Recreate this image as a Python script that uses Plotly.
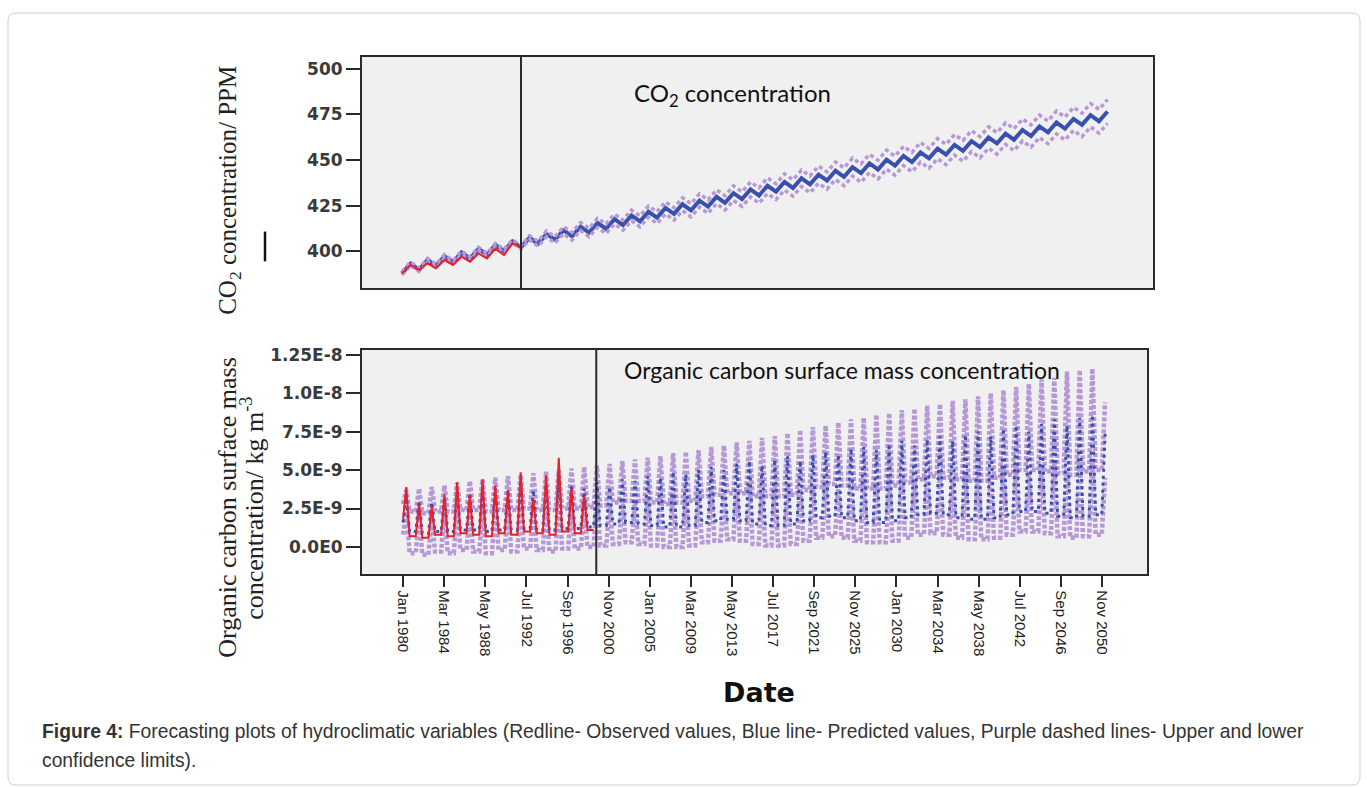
import plotly.graph_objects as go

# ---------------- CO2 panel (ppm), half-year steps: seasonal trough / peak alternate ----------------
co2_t0 = 2009.1
co2_step = 0.5
co2_forecast_start = 2016.1

co2_observed = [388.0, 392.6, 389.9, 393.5, 390.8, 395.3, 392.6, 397.1, 394.4, 398.9,
                396.2, 401.5, 398.0, 404.5, 402.3]

co2_predicted = [388.0, 393.3, 390.0, 395.3, 392.1, 397.4, 394.1, 399.4, 396.1, 401.4,
                 398.2, 403.5, 400.2, 405.5, 402.2, 407.5, 404.2, 409.6, 406.3, 411.6,
                 408.3, 413.6, 410.3, 415.6, 412.4, 417.7, 414.4, 419.7, 416.4, 421.7,
                 418.5, 423.8, 420.5, 425.8, 422.5, 427.8, 424.5, 429.9, 426.6, 431.9,
                 428.6, 433.9, 430.6, 435.9, 432.7, 438.0, 434.7, 440.0, 436.7, 442.0,
                 438.8, 444.1, 440.8, 446.1, 442.8, 448.1, 444.8, 450.2, 446.9, 452.2,
                 448.9, 454.2, 450.9, 456.2, 453.0, 458.3, 455.0, 460.3, 457.0, 462.3,
                 459.1, 464.4, 461.1, 466.4, 463.1, 468.4, 465.1, 470.5, 467.2, 472.5,
                 469.2, 474.5, 471.2, 476.5]

co2_upper = [388.9, 394.2, 390.9, 396.2, 393.0, 398.3, 395.0, 400.3, 397.0, 402.3,
             399.1, 404.4, 401.1, 406.4, 403.1, 408.6, 405.6, 411.2, 408.0, 413.5,
             410.4, 415.8, 412.6, 418.1, 415.0, 420.4, 417.2, 422.6, 419.4, 424.8,
             421.7, 427.1, 423.9, 429.3, 426.1, 431.5, 428.2, 433.7, 430.5, 435.9,
             432.6, 438.0, 434.8, 440.2, 437.0, 442.4, 439.2, 444.5, 441.3, 446.7,
             443.5, 448.9, 445.7, 451.0, 447.8, 453.1, 449.9, 455.4, 452.1, 457.5,
             454.2, 459.6, 456.3, 461.7, 458.6, 463.9, 460.7, 466.0, 462.8, 468.1,
             465.0, 470.3, 467.1, 472.4, 469.2, 474.5, 471.3, 476.7, 473.5, 478.8,
             475.6, 480.9, 477.7, 483.0]

co2_lower = [387.1, 392.4, 389.1, 394.4, 391.2, 396.5, 393.2, 398.5, 395.2, 400.5,
             397.3, 402.6, 399.3, 404.6, 401.3, 406.4, 402.9, 408.0, 404.6, 409.7,
             406.2, 411.4, 408.0, 413.1, 409.8, 415.0, 411.6, 416.8, 413.4, 418.6,
             415.3, 420.5, 417.1, 422.3, 418.9, 424.2, 420.8, 426.1, 422.7, 427.9,
             424.6, 429.8, 426.4, 431.6, 428.4, 433.6, 430.2, 435.5, 432.1, 437.3,
             434.1, 439.3, 435.9, 441.2, 437.8, 443.1, 439.7, 445.0, 441.7, 446.9,
             443.6, 448.8, 445.5, 450.7, 447.5, 452.7, 449.3, 454.6, 451.2, 456.5,
             453.2, 458.5, 455.1, 460.4, 457.0, 462.3, 458.9, 464.3, 460.9, 466.2,
             462.8, 468.1, 464.7, 470.0]

co2_ticks = [400, 425, 450, 475, 500]

# ---------------- Organic carbon panel (values in 1e-9 kg m-3) ----------------
# x = months since Jan 1980; one seasonal spike per cycle
oc_cycle_start = 4.0
oc_cycle_len = 15.45
oc_forecast_start = 235

oc_obs_peaks = [3.9, 2.8, 2.6, 3.4, 4.2, 3.4, 4.4, 4.0, 3.7, 4.85, 3.1, 4.65, 5.8, 3.8, 3.4]
oc_obs_troughs = [1.8, 0.7, 0.6, 0.8, 0.7, 0.9, 0.8, 0.7, 0.9, 0.8, 1.0, 0.9, 0.8, 1.0, 0.9, 1.1]

oc_pred_peaks = [3.2, 3.0, 2.9, 3.2, 3.6, 3.5, 3.8, 3.8, 3.7, 4.1, 3.7, 4.1, 4.6, 4.0, 3.8,
                 4.2, 3.9, 4.4, 4.3, 4.6, 4.5, 4.9, 4.7, 5.0, 5.2, 5.0, 5.4, 5.6, 5.3, 5.7,
                 5.9, 5.6, 6.0, 6.2, 6.0, 6.4, 6.5, 6.3, 6.7, 6.9, 6.6, 7.0, 7.2, 6.9, 7.3,
                 7.5, 7.2, 7.7, 7.9, 7.5, 8.0, 8.3, 7.9, 8.4, 8.6, 7.4]
oc_pred_troughs = [1.6, 1.0, 0.9, 1.0, 1.0, 1.1, 1.1, 1.0, 1.1, 1.1, 1.2, 1.1, 1.1, 1.2, 1.2, 1.3,
                   1.4, 1.5, 1.6, 1.5, 1.4, 1.3, 1.3, 1.4, 1.6, 1.7, 1.8, 1.7, 1.5, 1.4,
                   1.4, 1.5, 1.7, 1.9, 2.0, 1.9, 1.7, 1.6, 1.6, 1.7, 1.9, 2.1, 2.2, 2.1,
                   1.9, 1.8, 1.8, 1.9, 2.1, 2.3, 2.3, 2.2, 2.0, 1.9, 2.0, 2.1]

oc_upper_peaks = [3.7, 3.8, 3.9, 4.0, 4.2, 4.3, 4.4, 4.5, 4.6, 4.7, 4.8, 4.9, 5.0, 5.1, 5.2,
                  5.3, 5.4, 5.6, 5.7, 5.8, 5.9, 6.1, 6.2, 6.3, 6.5, 6.6, 6.8, 6.9, 7.1, 7.2,
                  7.4, 7.6, 7.8, 7.9, 8.1, 8.3, 8.4, 8.6, 8.7, 8.9, 9.0, 9.2, 9.3, 9.5, 9.6,
                  9.8, 10.0, 10.2, 10.4, 10.6, 10.9, 11.0, 11.4, 11.5, 11.6, 9.4]
oc_upper_troughs = [2.8, 2.3, 2.2, 2.3, 2.3, 2.4, 2.4, 2.3, 2.4, 2.4, 2.5, 2.4, 2.4, 2.5, 2.5, 2.6,
                    2.7, 2.9, 3.0, 3.0, 2.9, 2.8, 2.9, 3.0, 3.3, 3.4, 3.5, 3.5, 3.3, 3.3,
                    3.3, 3.4, 3.7, 3.9, 4.1, 4.0, 3.8, 3.8, 3.8, 4.0, 4.2, 4.4, 4.6, 4.5,
                    4.4, 4.3, 4.3, 4.5, 4.7, 5.0, 5.0, 4.9, 4.8, 4.7, 4.9, 5.0]

oc_lower_peaks = [2.3, 2.1, 2.0, 2.3, 2.6, 2.5, 2.8, 2.7, 2.6, 3.0, 2.6, 3.0, 3.4, 2.9, 2.7,
                  3.1, 2.8, 3.2, 3.1, 3.3, 3.2, 3.5, 3.3, 3.5, 3.7, 3.5, 3.8, 4.0, 3.6, 4.0,
                  4.1, 3.8, 4.1, 4.3, 4.0, 4.4, 4.5, 4.2, 4.6, 4.7, 4.4, 4.7, 4.9, 4.5, 4.9,
                  5.1, 4.7, 5.2, 5.3, 4.9, 5.3, 5.6, 5.1, 5.6, 5.7, 4.5]
oc_lower_troughs = [0.8, -0.4, -0.5, -0.3, -0.4, -0.2, -0.3, -0.4, -0.2, -0.3, -0.1, -0.2, -0.3, -0.1, -0.1, 0.0,
                    0.1, 0.2, 0.3, 0.2, 0.1, 0.0, 0.0, 0.1, 0.3, 0.4, 0.5, 0.4, 0.2, 0.1,
                    0.1, 0.2, 0.4, 0.6, 0.7, 0.6, 0.4, 0.3, 0.3, 0.4, 0.6, 0.8, 0.9, 0.8,
                    0.6, 0.5, 0.5, 0.6, 0.8, 1.0, 1.0, 0.9, 0.7, 0.6, 0.7, 0.8]

oc_ticks = [0, 2.5, 5.0, 7.5, 10.0, 12.5]
oc_tick_labels = ["0.0E0", "2.5E-9", "5.0E-9", "7.5E-9", "1.0E-8", "1.25E-8"]

date_ticks = [0, 50, 100, 150, 200, 250, 300, 350, 400, 450, 500, 550, 600, 650, 700, 750, 800, 850]
date_labels = ["Jan 1980", "Mar 1984", "May 1988", "Jul 1992", "Sep 1996", "Nov 2000",
               "Jan 2005", "Mar 2009", "May 2013", "Jul 2017", "Sep 2021", "Nov 2025",
               "Jan 2030", "Mar 2034", "May 2038", "Jul 2042", "Sep 2046", "Nov 2050"]

# ---------------- helpers ----------------
W, H = 1367, 787
def px(x):
    return x / W
def py(y):
    return 1 - y / H

RED = "#e8202a"
BLUE = "#3a50ae"
PURPLE = "#b798d6"

co2_x = [co2_t0 + co2_step * i for i in range(len(co2_predicted))]
co2_obs_x = co2_x[:len(co2_observed)]

def spikes(peaks, troughs, w=4.0):
    xs, ys = [], []
    n = len(peaks)
    for k in range(n):
        c = oc_cycle_start + oc_cycle_len * k
        xs += [c - w, c]
        ys += [troughs[k], peaks[k]]
        if k + 1 < len(troughs):
            xs.append(c + w)
            ys.append(troughs[k + 1])
    if len(troughs) > n:
        xs.append(oc_cycle_start + oc_cycle_len * n - w)
        ys.append(troughs[n])
    return xs, ys

fig = go.Figure()

# ---- top panel ----
fig.add_trace(go.Scatter(x=co2_x, y=co2_predicted, mode="lines",
                         line=dict(color=BLUE, width=4), xaxis="x", yaxis="y"))
fig.add_trace(go.Scatter(x=co2_x, y=co2_upper, mode="lines",
                         line=dict(color=PURPLE, width=3.5, dash="4px,3px"), xaxis="x", yaxis="y"))
fig.add_trace(go.Scatter(x=co2_x, y=co2_lower, mode="lines",
                         line=dict(color=PURPLE, width=3.5, dash="4px,3px"), xaxis="x", yaxis="y"))
fig.add_trace(go.Scatter(x=co2_obs_x, y=co2_observed, mode="lines",
                         line=dict(color=RED, width=2), xaxis="x", yaxis="y"))

# ---- bottom panel ----
for pk, tr, col, wd, dash in [
    (oc_upper_peaks, oc_upper_troughs, PURPLE, 4.5, "4px,2px"),
    (oc_lower_peaks, oc_lower_troughs, PURPLE, 4.5, "4px,2px"),
    (oc_pred_peaks, oc_pred_troughs, BLUE, 3, "3px,4px"),
    (oc_obs_peaks, oc_obs_troughs, RED, 2, "solid"),
]:
    xs, ys = spikes(pk, tr)
    fig.add_trace(go.Scatter(x=xs, y=ys, mode="lines",
                             line=dict(color=col, width=wd, dash=dash),
                             xaxis="x2", yaxis="y2"))

axis_common = dict(showgrid=False, zeroline=False, showline=True, mirror=True,
                   linecolor="#2a2a2a", linewidth=2)
ytick_font = dict(family="DejaVu Sans", size=17, color="#3a3a3a", weight="bold")

fig.update_layout(
    width=W, height=H,
    margin=dict(l=0, r=0, t=0, b=0),
    paper_bgcolor="white",
    plot_bgcolor="#f0f0f0",
    showlegend=False,
    xaxis=dict(domain=[px(362), px(1153)], anchor="y",
               range=[co2_t0 - 40 / 17, co2_t0 + 751 / 17],
               showticklabels=False, ticks="", **axis_common),
    yaxis=dict(domain=[py(285), py(52)], anchor="x", range=[379.9, 506.5],
               tickvals=co2_ticks, ticks="outside", ticklen=14, tickwidth=2,
               tickcolor="#2a2a2a", tickfont=ytick_font, **axis_common),
    xaxis2=dict(domain=[px(362), px(1147)], anchor="y2", range=[-49.9, 904.7],
                tickvals=date_ticks, ticktext=date_labels, tickangle=90,
                ticks="outside", ticklen=11, tickwidth=2, tickcolor="#2a2a2a",
                tickfont=dict(family="Liberation Sans", size=15, color="#222222"),
                **axis_common),
    yaxis2=dict(domain=[py(573), py(347)], anchor="x2", range=[-1.78, 12.82],
                tickvals=oc_ticks, ticktext=oc_tick_labels, ticks="outside",
                ticklen=14, tickwidth=2, tickcolor="#2a2a2a", tickfont=ytick_font,
                **axis_common),
)

# boundary between observed and forecast
fig.add_shape(type="line", xref="x", yref="y domain", x0=co2_forecast_start, x1=co2_forecast_start,
              y0=0, y1=1, line=dict(color="#2a2a2a", width=2))
fig.add_shape(type="line", xref="x2", yref="y2 domain", x0=oc_forecast_start, x1=oc_forecast_start,
              y0=0, y1=1, line=dict(color="#2a2a2a", width=2))

# stray mark left of top y-axis
fig.add_shape(type="line", xref="paper", yref="paper", x0=px(265), x1=px(265), y0=py(258), y1=py(228),
              line=dict(color="#111111", width=2.5))

# page frame
r = 8
x0, x1, y0, y1 = 8, 1360, 8, 785
path = (f"M {px(x0 + r)} {py(y0)} L {px(x1 - r)} {py(y0)} Q {px(x1)} {py(y0)} {px(x1)} {py(y0 + r)} "
        f"L {px(x1)} {py(y1 - r)} Q {px(x1)} {py(y1)} {px(x1 - r)} {py(y1)} "
        f"L {px(x0 + r)} {py(y1)} Q {px(x0)} {py(y1)} {px(x0)} {py(y1 - r)} "
        f"L {px(x0)} {py(y0 + r)} Q {px(x0)} {py(y0)} {px(x0 + r)} {py(y0)} Z")
fig.add_shape(type="path", xref="paper", yref="paper", path=path,
              line=dict(color="#cfcfcf", width=1), layer="below")

serif = "Liberation Serif"
annos = [
    dict(x=px(230), y=py(187), text="CO<sub>2</sub> concentration/ PPM", textangle=-90,
         font=dict(family=serif, size=25, color="#222222")),
    dict(x=px(228), y=py(506), text="Organic carbon surface mass", textangle=-90,
         font=dict(family=serif, size=26, color="#222222")),
    dict(x=px(253), y=py(507), text="concentration/ kg m<sup>-3</sup>", textangle=-90,
         font=dict(family=serif, size=26, color="#222222")),
    dict(x=px(732), y=py(90), text="CO<sub>2</sub> concentration",
         font=dict(family="Lato", size=24, color="#111111")),
    dict(x=px(842), y=py(367), text="Organic carbon surface mass concentration",
         font=dict(family="Lato", size=23, color="#111111")),
    dict(x=px(759), y=py(692), text="<b>Date</b>",
         font=dict(family="DejaVu Sans", size=27, color="#111111")),
    dict(x=px(40), y=py(731), xanchor="left", align="left",
         text="<b>Figure 4:</b> Forecasting plots of hydroclimatic variables (Redline- Observed values, "
              "Blue line- Predicted values, Purple dashed lines- Upper and lower",
         font=dict(family="Liberation Sans", size=19.3, color="#333333")),
    dict(x=px(40), y=py(760), xanchor="left", align="left", text="confidence limits).",
         font=dict(family="Liberation Sans", size=19.3, color="#333333")),
]
for a in annos:
    a.setdefault("xanchor", "center")
    fig.add_annotation(xref="paper", yref="paper", showarrow=False, yanchor="middle", **a)

fig.write_html("out.html")
